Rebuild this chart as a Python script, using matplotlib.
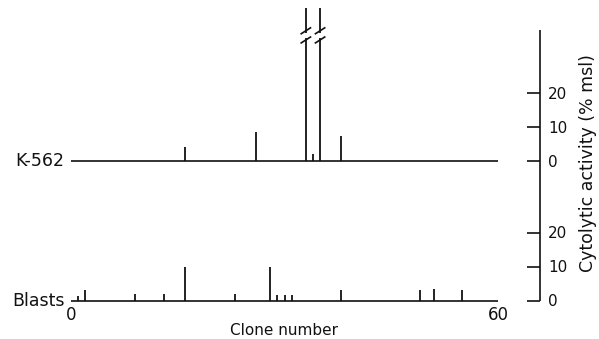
import matplotlib
matplotlib.use("Agg")
import matplotlib.pyplot as plt

plt.rcParams['font.family'] = ['DejaVu Sans']

# K-562 targets: clone number -> cytolytic activity (% msl)
k562_clones = [16, 26, 33, 34, 35, 38]
k562_values = [4.0, 8.5, 100.0, 2.0, 100.0, 7.4]
k562_broken = [33, 35]          # off-scale clones, drawn with a break mark

# Blast targets
blast_clones = [1, 2, 9, 13, 16, 23, 28, 29, 30, 31, 38, 49, 51, 55]
blast_values = [1.2, 3.2, 2.0, 1.8, 10.0, 2.0, 10.0, 1.5, 1.5, 1.5, 3.0, 3.0, 3.5, 3.2]

y_ticks = [0, 10, 20]
x_ticks = [0, 60]

W, H = 599, 339
PX = 3.4        # pixels per % on the activity scale
INK = "#111111"

fig = plt.figure(figsize=(W / 100, H / 100), dpi=100)


def px_axes(x0, y0, x1, y1):
    return fig.add_axes([x0 / W, 1 - y1 / H, (x1 - x0) / W, (y1 - y0) / H])


def style_panel(ax, ylo, yhi):
    ax.set_xlim(0, 60)
    ax.set_ylim(ylo, yhi)
    for s in ("top", "left", "bottom"):
        ax.spines[s].set_visible(False)
    sp = ax.spines["right"]
    sp.set_position(("outward", 42 * 0.72))
    sp.set_linewidth(1.2)
    sp.set_color(INK)
    sp.set_capstyle("butt")
    ax.yaxis.tick_right()
    ax.set_yticks(y_ticks)
    ax.tick_params(axis="y", direction="in", length=9.5, width=1.2,
                   pad=6, labelsize=11, colors=INK)
    ax.patch.set_alpha(0)


# ── top panel (K-562) ──
top0 = 161
ax1 = px_axes(71, 8, 498, 200)
style_panel(ax1, (top0 - 200) / PX, (top0 - 8) / PX)
ax1.spines["right"].set_visible(False)
ax1.set_xticks([])
ax1.hlines(0, 0, 60, color=INK, lw=1.2)
ax1.vlines(k562_clones, 0, k562_values, color=INK, lw=1.3)
for c in k562_broken:
    ax1.vlines(c, 36.3, 37.7, color="white", lw=3, zorder=3)
    for yc in (35.6, 38.3):
        ax1.plot([c - 0.75, c + 0.75], [yc - 1.0, yc + 1.0],
                 color=INK, lw=1.2, zorder=4, solid_capstyle="butt")
ax1.text(-0.9, 0, "K-562", ha="right", va="center", fontsize=12.5, color=INK)

# ── bottom panel (Blasts) ──
bot0 = 300.5
ax2 = px_axes(71, 200, 498, 304)
style_panel(ax2, (bot0 - 304) / PX, (bot0 - 200) / PX)
# one continuous right axis line running up through the top panel
ax2.spines["right"].set_bounds(0, (bot0 - 30) / PX)
ax2.hlines(0, 0, 60, color=INK, lw=1.2)
ax2.vlines(blast_clones, 0, blast_values, color=INK, lw=1.3)
ax2.set_xticks(x_ticks)
ax2.set_xticklabels([str(v) for v in x_ticks])
ax2.tick_params(axis="x", length=0, pad=1.5, labelsize=12, colors=INK)
ax2.set_xlabel("Clone number", fontsize=11, color=INK, labelpad=-1)
ax2.text(-0.9, 0, "Blasts", ha="right", va="center", fontsize=12.5, color=INK)

fig.text(588 / W, 1 - 163 / H, "Cytolytic activity (% msl)", rotation=90,
         ha="center", va="center", fontsize=12.5, color=INK)

fig.savefig("out.png", dpi=100, facecolor="white")
